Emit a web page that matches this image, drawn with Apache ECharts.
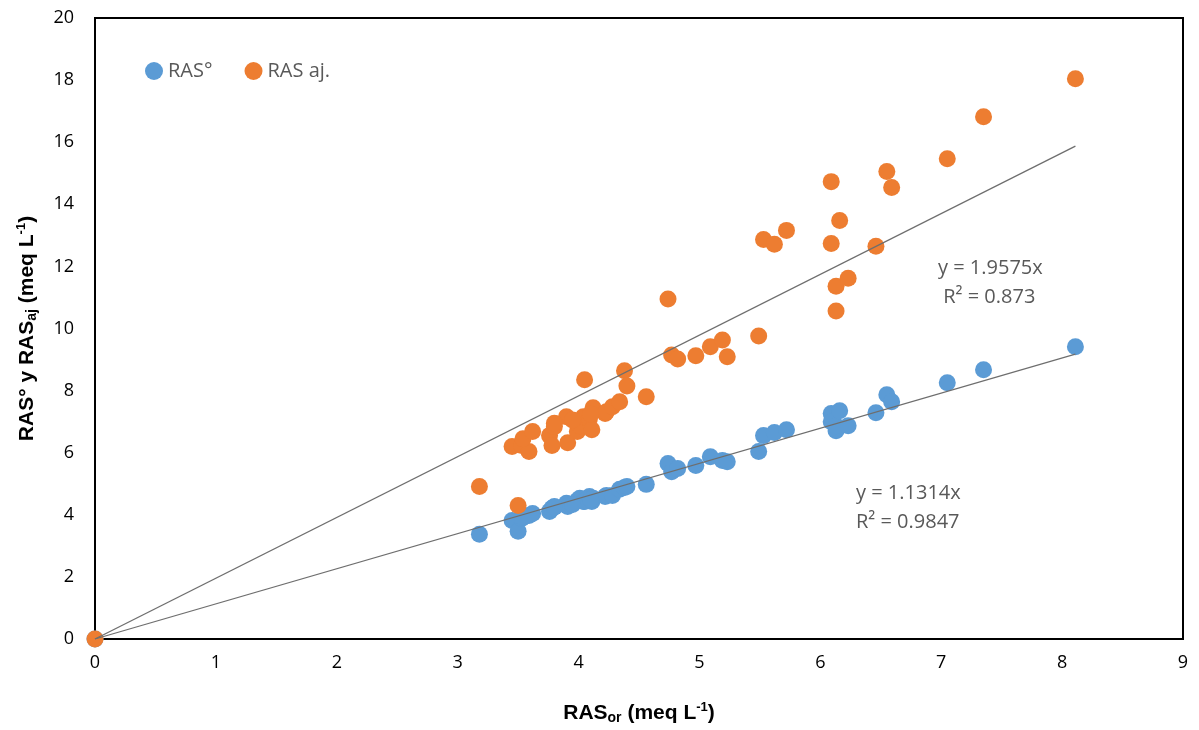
<!DOCTYPE html>
<html>
<head>
<meta charset="utf-8">
<script src="https://cdn.jsdelivr.net/npm/echarts@6/dist/echarts.min.js"></script>
<style>html,body{margin:0;padding:0;background:#fff;}#c{width:1199px;height:730px;}</style>
</head>
<body>
<div id="c"></div>
<script>
// RAS_or (x) shared by both series
const rasOr = [0, 3.18, 3.45, 3.50, 3.53, 3.59, 3.54, 3.62, 3.76, 3.78, 3.80, 3.90, 3.91, 3.99, 4.01, 4.04, 4.05, 4.09, 4.11, 4.12, 4.22, 4.23, 4.28, 4.34, 4.38, 4.40, 4.56, 4.74, 4.77, 4.82, 4.97, 5.09, 5.19, 5.23, 5.49, 5.53, 5.62, 5.72, 6.09, 6.09, 6.13, 6.13, 6.16, 6.23, 6.46, 6.55, 6.59, 7.05, 7.35, 8.11, 3.80, 3.95, 4.10];
// RAS° (blue)
const rasO = [0, 3.37, 3.82, 3.47, 3.88, 3.98, 3.92, 4.04, 4.11, 4.21, 4.27, 4.37, 4.27, 4.46, 4.53, 4.43, 4.43, 4.59, 4.43, 4.53, 4.59, 4.62, 4.62, 4.82, 4.88, 4.91, 4.98, 5.65, 5.39, 5.49, 5.59, 5.87, 5.75, 5.71, 6.04, 6.55, 6.65, 6.74, 7.26, 7.00, 6.71, 6.87, 7.35, 6.87, 7.29, 7.87, 7.64, 8.25, 8.67, 9.41, 4.24, 4.33, 4.50];
// RAS aj. (orange)
const rasAj = [0, 4.91, 6.20, 4.30, 6.23, 6.04, 6.45, 6.68, 6.55, 6.23, 6.84, 7.16, 6.32, 6.68, 6.87, 7.16, 8.35, 7.09, 6.74, 7.45, 7.26, 7.32, 7.48, 7.64, 8.64, 8.15, 7.80, 10.95, 9.15, 9.02, 9.12, 9.41, 9.63, 9.09, 9.76, 12.87, 12.71, 13.16, 14.73, 12.74, 10.56, 11.36, 13.48, 11.62, 12.65, 15.06, 14.54, 15.47, 16.82, 18.04, 6.95, 7.05, 7.25];
const slopeO = 1.1314, r2O = 0.9847;
const slopeAj = 1.9575, r2Aj = 0.873;
const xTicks = [0,1,2,3,4,5,6,7,8,9];
const yTicks = [0,2,4,6,8,10,12,14,16,18,20];

const xMax = Math.max(...rasOr);
const blueData = rasOr.map((x,i)=>[x, rasO[i]]);
const orangeData = rasOr.map((x,i)=>[x, rasAj[i]]);
const trendO = [[0,0],[xMax, slopeO*xMax]];
const trendAj = [[0,0],[xMax, slopeAj*xMax]];

const chart = echarts.init(document.getElementById('c'));
const fam = "'Liberation Sans Narrow','Liberation Sans',sans-serif";
const tf = "'Open Sans',sans-serif";
const rich = {
  b:{fontSize:21,fontWeight:'bold',color:'#000',fontFamily:fam},
  sub:{fontSize:14,fontWeight:'bold',color:'#000',fontFamily:fam,verticalAlign:'bottom',padding:[10,0,0,0]},
  sup:{fontSize:13,fontWeight:'bold',color:'#000',fontFamily:fam,verticalAlign:'top',padding:[0,0,10,0]}
};
chart.setOption({
  animation:false,
  backgroundColor:'#fff',
  grid:{left:95,right:16,top:18,bottom:89,show:true,borderColor:'#000',borderWidth:2,containLabel:false},
  legend:{
    left:140, top:56, itemWidth:18, itemHeight:18, itemGap:32,
    icon:'circle',
    data:['RAS°','RAS aj.'],
    textStyle:{color:'#595959',fontSize:20,fontFamily:tf}
  },
  xAxis:{
    type:'value', min:xTicks[0], max:xTicks[xTicks.length-1], interval:1,
    axisLine:{show:true,lineStyle:{color:'#000',width:2}},
    axisTick:{show:false}, splitLine:{show:false},
    axisLabel:{color:'#000',fontSize:18,margin:15,fontFamily:tf},
    name:'{b|RAS}{sub|or}{b| (meq L}{sup|-1}{b|)}',
    nameLocation:'middle', nameGap:62,
    nameTextStyle:{rich:rich}
  },
  yAxis:{
    type:'value', min:yTicks[0], max:yTicks[yTicks.length-1], interval:2,
    axisLine:{show:true,lineStyle:{color:'#000',width:2}},
    axisTick:{show:false}, splitLine:{show:false},
    axisLabel:{color:'#000',fontSize:18,margin:21,fontFamily:tf},
    name:'{b|RAS° y RAS}{sub|aj}{b| (meq L}{sup|-1}{b|)}',
    nameLocation:'middle', nameGap:56, nameRotate:90,
    nameTextStyle:{rich:rich}
  },
  series:[
    {name:'RAS°',type:'scatter',data:blueData,symbolSize:17,itemStyle:{color:'#5B9BD5',opacity:1},z:3},
    {name:'RAS aj.',type:'scatter',data:orangeData,symbolSize:17,itemStyle:{color:'#ED7D31',opacity:1},z:4},
    {name:'trendO',type:'line',data:trendO,symbol:'none',lineStyle:{color:'#6e6e6e',width:1.3},z:5,silent:true},
    {name:'trendAj',type:'line',data:trendAj,symbol:'none',lineStyle:{color:'#6e6e6e',width:1.3},z:5,silent:true}
  ],
  graphic:[
    {type:'text',left:938,top:254,style:{text:'y = '+slopeAj.toFixed(4)+'x\n R² = '+r2Aj,fill:'#595959',fontSize:20,lineHeight:29,fontFamily:tf}},
    {type:'text',left:856,top:479,style:{text:'y = '+slopeO.toFixed(4)+'x\nR² = '+r2O,fill:'#595959',fontSize:20,lineHeight:29,fontFamily:tf}}
  ]
});
</script>
</body>
</html>
